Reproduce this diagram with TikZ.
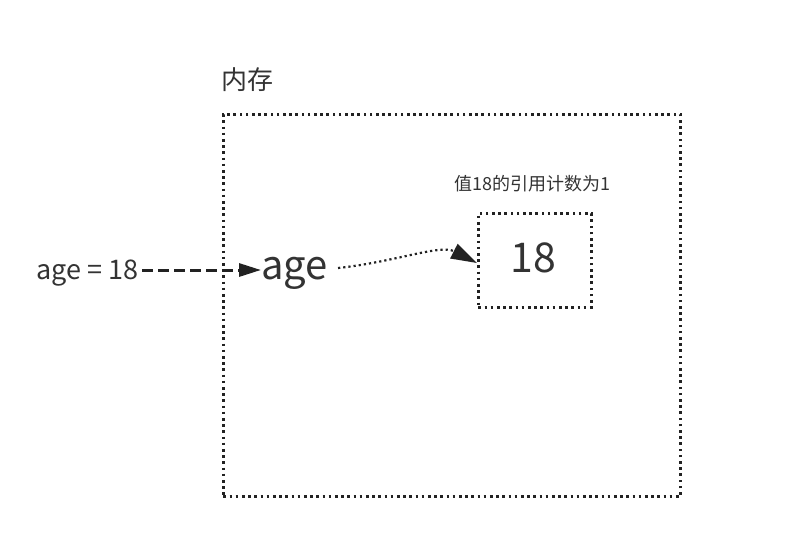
\documentclass[tikz,border=0pt]{standalone}
\usepackage{fontspec}
\setmainfont{Noto Sans CJK SC}
\usetikzlibrary{arrows.meta}
\definecolor{ink}{HTML}{333333}
\definecolor{dotink}{HTML}{222222}
\tikzset{
  dotbox/.style={draw=dotink, line width=2.6pt, dash pattern=on 2.6pt off 3.6pt},
  txt/.style={text=ink, inner sep=0pt},
}
\begin{document}
\begin{tikzpicture}[x=1pt,y=-1pt]
\useasboundingbox (0,0) rectangle (810,536);
% outer memory box
\node[dotbox, minimum width=457pt, minimum height=382pt, anchor=north west] (mem) at (222,113) {};
\node[txt, font=\fontsize{26}{30}\selectfont, anchor=base west] (memlbl) at (221,89) {内存};
% value box
\node[dotbox, minimum width=113pt, minimum height=94pt, anchor=north west] (val) at (477,212) {};
\node[txt, font=\fontsize{41}{44}\selectfont, anchor=base] (num) at (533,272) {18};
\node[txt, font=\fontsize{18}{20}\selectfont, anchor=base] (cnt) at (532,190) {值18的引用计数为1};
% variable
\node[txt, font=\fontsize{27}{30}\selectfont, anchor=base west] (stmt) at (36,279) {age = 18};
\node[txt, font=\fontsize{40}{44}\selectfont, anchor=base west] (age) at (261,279) {age};
\coordinate (s0) at ([xshift=4pt]stmt.east |- 0,270);
\draw[dotink, line width=3pt, dash pattern=on 11pt off 5pt, -{Triangle[length=22pt,width=13pt]}] (s0) -- (age.west |- s0);
\coordinate (c0) at ([xshift=10pt]age.east |- 0,268);
\coordinate (c1) at (val.west |- 0,263);
\draw[dotink, line width=2.2pt, dash pattern=on 2.2pt off 3pt, -{Triangle[length=26pt,width=16pt]}] (c0) .. controls (395,262) and (440,244) .. (c1);
\end{tikzpicture}
\end{document}
